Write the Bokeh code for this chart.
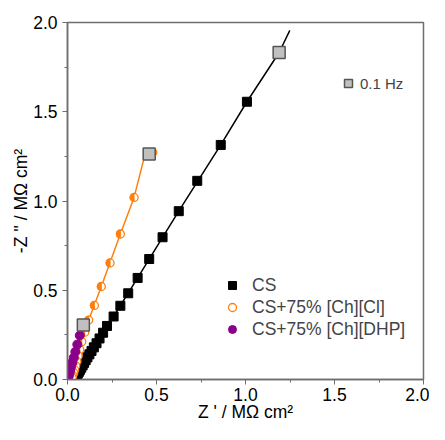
import math
from bokeh.plotting import figure
from bokeh.models import SingleIntervalTicker, NumeralTickFormatter, Legend, LegendItem, Range1d
from bokeh.embed import file_html
from bokeh.resources import INLINE

# --- data (Z' and -Z'' in MOhm cm^2) ---
cs_x = [1.008, 0.861, 0.729, 0.625, 0.534, 0.459, 0.394, 0.341, 0.297, 0.259, 0.222,
        0.200, 0.180, 0.163, 0.148, 0.135, 0.123, 0.112, 0.102, 0.093, 0.085, 0.077,
        0.070, 0.064, 0.058, 0.053, 0.048, 0.044, 0.040]
cs_y = [1.556, 1.314, 1.113, 0.943, 0.797, 0.675, 0.569, 0.483, 0.413, 0.353, 0.300,
        0.262, 0.230, 0.203, 0.180, 0.160, 0.141, 0.124, 0.108, 0.093, 0.079, 0.066,
        0.054, 0.043, 0.033, 0.024, 0.016, 0.009, 0.004]
cs_fit_x = [0.035, 0.06, 0.10, 0.16, 0.259, 0.394, 0.625, 0.861, 1.008, 1.189, 1.249]
cs_fit_y = [0.000, 0.040, 0.102, 0.195, 0.353, 0.569, 0.943, 1.314, 1.556, 1.832, 1.956]

cl_x = [0.479, 0.374, 0.297, 0.239, 0.190, 0.151, 0.119, 0.097, 0.080, 0.069, 0.060,
        0.053, 0.046, 0.040, 0.035, 0.029, 0.026]
cl_y = [1.272, 1.020, 0.815, 0.653, 0.521, 0.415, 0.333, 0.265, 0.212, 0.168, 0.132,
        0.102, 0.077, 0.055, 0.037, 0.022, 0.011]
cl_fit_x = [0.022, 0.045, 0.08, 0.119, 0.190, 0.297, 0.374, 0.428]
cl_fit_y = [0.000, 0.080, 0.212, 0.333, 0.521, 0.815, 1.020, 1.232]

dhp_x = [0.069, 0.055, 0.044, 0.035, 0.027, 0.020, 0.015, 0.011, 0.007, 0.004]
dhp_y = [0.247, 0.196, 0.155, 0.122, 0.095, 0.073, 0.053, 0.037, 0.022, 0.011]
dhp_fit_x = [0.001, 0.020, 0.044, 0.069]
dhp_fit_y = [0.000, 0.073, 0.155, 0.247]

hz_x = [1.189, 0.459, 0.089]
hz_y = [1.832, 1.263, 0.305]

series_labels = ["CS", "CS+75% [Ch][Cl]", "CS+75% [Ch][DHP]"]
hz_label = "0.1 Hz"

FONT = "Liberation Sans"
ORANGE = "#FF7F0E"
PURPLE = "#8B008B"
AXC = "#6e6e6e"

p = figure(width=429, height=424, output_backend="svg", toolbar_location=None,
           x_range=Range1d(0, 2), y_range=Range1d(0, 2),
           min_border_left=67, min_border_right=6, min_border_top=22, min_border_bottom=45)
p.background_fill_color = "white"
p.border_fill_color = "white"
p.outline_line_color = AXC
p.outline_line_width = 1.5
p.xgrid.visible = False
p.ygrid.visible = False

for ax in (p.xaxis[0], p.yaxis[0]):
    ax.ticker = SingleIntervalTicker(interval=0.5, num_minor_ticks=2)
    ax.formatter = NumeralTickFormatter(format="0.0")
    ax.major_label_text_font = FONT
    ax.major_label_text_font_size = "17.5px"
    ax.major_label_text_color = "black"
    ax.axis_label_text_font = FONT
    ax.axis_label_text_font_size = "17.5px"
    ax.axis_label_text_font_style = "normal"
    ax.axis_label_text_color = "black"
    ax.axis_line_color = AXC
    ax.axis_line_width = 1.5
    ax.major_tick_line_color = AXC
    ax.minor_tick_line_color = AXC
    ax.major_tick_in = 0
    ax.major_tick_out = 5
    ax.minor_tick_in = 0
    ax.minor_tick_out = 3
    ax.major_label_standoff = 5

p.xaxis[0].major_label_standoff = 3
p.xaxis[0].axis_label_standoff = -2
p.yaxis[0].axis_label_standoff = -1

p.xaxis.axis_label = "Z ' / MΩ cm²"
p.yaxis.axis_label = "-Z '' / MΩ cm²"

# fit lines
p.line(cs_fit_x, cs_fit_y, line_color="black", line_width=1.5)
p.line(cl_fit_x, cl_fit_y, line_color=ORANGE, line_width=1.5)
p.line(dhp_fit_x, dhp_fit_y, line_color=PURPLE, line_width=1.5)

# markers
r_cs = p.scatter(cs_x, cs_y, marker="square", size=9, fill_color="black", line_color="black")
r_cl = p.scatter(cl_x, cl_y, marker="circle", size=8, fill_color="white", line_color=ORANGE, line_width=1.3)
p.wedge(cl_x, cl_y, radius=4, radius_units="screen", start_angle=math.pi / 2,
        end_angle=3 * math.pi / 2, fill_color=ORANGE, line_color=ORANGE)
r_dhp = p.scatter(dhp_x, dhp_y, marker="circle", size=9, fill_color=PURPLE, line_color=PURPLE)
r_hz = p.scatter(hz_x, hz_y, marker="square", size=12, fill_color="#c0c0c0", line_color="#555555", line_width=1.5)

leg = Legend(items=[LegendItem(label=series_labels[0], renderers=[r_cs]),
                    LegendItem(label=series_labels[1], renderers=[r_cl]),
                    LegendItem(label=series_labels[2], renderers=[r_dhp])],
             location=(155, 39), glyph_width=20, glyph_height=22, label_height=22,
             spacing=0, padding=0, margin=0, label_standoff=10,
             label_text_font=FONT, label_text_font_size="17.5px",
             border_line_color=None, background_fill_alpha=0)
p.add_layout(leg)

leg2 = Legend(items=[LegendItem(label=hz_label, renderers=[r_hz])],
              location=(271, 286), glyph_width=20, glyph_height=20, label_height=20,
              spacing=0, padding=0, margin=0, label_standoff=2,
              label_text_font=FONT, label_text_font_size="15px",
              border_line_color=None, background_fill_alpha=0)
p.add_layout(leg2)

open("out.html", "w").write(file_html(p, INLINE))
